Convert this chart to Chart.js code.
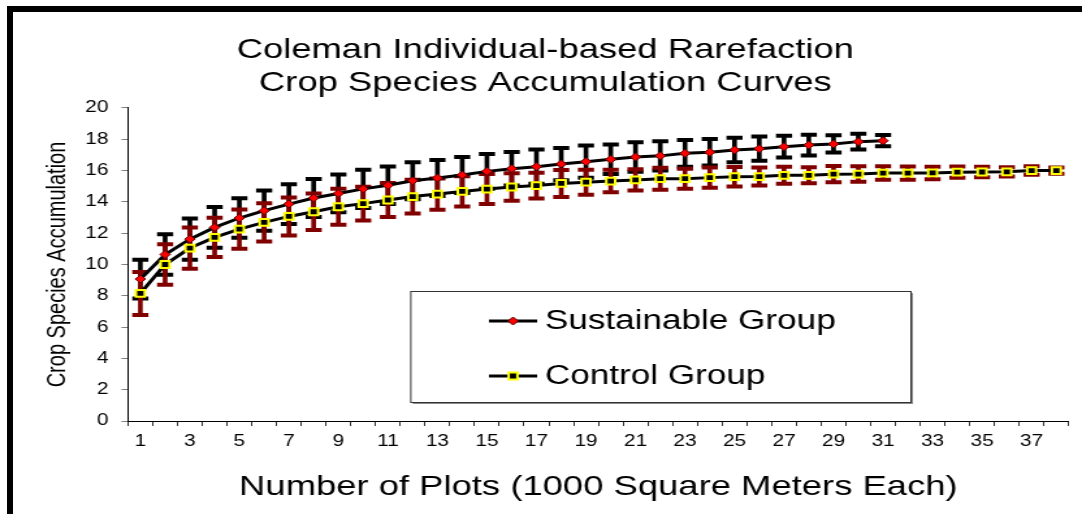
<!DOCTYPE html>
<html><head><meta charset="utf-8">
<script src="https://cdn.jsdelivr.net/npm/chart.js@4/dist/chart.umd.min.js"></script>
<style>
html,body{margin:0;padding:0;background:#fff;overflow:hidden;width:1082px;height:514px;}
#wrap{position:absolute;left:0;top:0;width:832px;height:514px;transform:scaleX(1.30048);transform-origin:0 0;}
#c{display:block;width:832px;height:514px;}
#frame{position:absolute;left:7px;top:6px;width:1075px;height:508px;box-sizing:border-box;border-left:6px solid #000;border-top:6px solid #000;pointer-events:none;}
</style></head><body>
<div id="wrap"><canvas id="c" width="832" height="514"></canvas></div>
<div id="frame"></div>
<script>
// ---- data ----
const plots = ['1','2','3','4','5','6','7','8','9','10','11','12','13','14','15','16','17','18','19','20','21','22','23','24','25','26','27','28','29','30','31','32','33','34','35','36','37','38'];
const susMean = [9.07,10.64,11.62,12.37,12.97,13.44,13.86,14.25,14.54,14.83,15.06,15.35,15.53,15.72,15.95,16.12,16.25,16.42,16.57,16.72,16.87,16.94,17.10,17.17,17.32,17.40,17.53,17.63,17.70,17.85,17.91];
const susErr  = [1.24,1.30,1.32,1.30,1.26,1.28,1.27,1.22,1.21,1.22,1.20,1.18,1.15,1.15,1.11,1.07,1.09,1.03,1.03,0.94,0.94,0.93,0.86,0.85,0.78,0.77,0.70,0.66,0.55,0.50,0.36];
const ctlMean = [8.15,10.00,11.05,11.73,12.26,12.69,13.07,13.37,13.69,13.89,14.12,14.34,14.50,14.67,14.82,14.95,15.04,15.18,15.26,15.33,15.40,15.48,15.48,15.55,15.61,15.62,15.70,15.70,15.77,15.78,15.84,15.84,15.85,15.90,15.91,15.92,16.00,16.00];
const ctlErr  = [1.37,1.30,1.32,1.25,1.26,1.22,1.21,1.16,1.15,1.08,1.08,1.08,1.00,0.96,0.96,0.88,0.82,0.86,0.80,0.72,0.68,0.70,0.64,0.65,0.62,0.57,0.54,0.51,0.52,0.50,0.43,0.42,0.40,0.36,0.33,0.30,0.27,0.20];
const titleLines = ['Coleman Individual-based Rarefaction','Crop Species Accumulation Curves'];
const xTitle = 'Number of Plots (1000 Square Meters Each)';
const yTitle = 'Crop Species Accumulation';
const seriesNames = ['Sustainable Group','Control Group'];

// ---- derived error ranges ----
const susRange = susMean.map((v,i)=>[v-susErr[i], v+susErr[i]]);
const susHigh = susMean.map((v,i)=>v+susErr[i]);
const susLow  = susMean.map((v,i)=>v-susErr[i]);
const ctlRange = ctlMean.map((v,i)=>[v-ctlErr[i], v+ctlErr[i]]);
const ctlHigh = ctlMean.map((v,i)=>v+ctlErr[i]);
const ctlLow  = ctlMean.map((v,i)=>v-ctlErr[i]);

const FONT = "'Liberation Sans', Arial, sans-serif";
Chart.defaults.font.family = FONT;
Chart.defaults.color = '#000';

function capSet(data, color, order){
  return {type:'line', data, showLine:false, pointStyle:'line', pointRadius:6.2, pointHoverRadius:6.2,
    pointBorderWidth:4, pointHoverBorderWidth:4, pointBorderColor:color, pointBackgroundColor:color, borderColor:color, order};
}

const legendPlugin = {
  id:'boxLegend',
  afterDraw(chart){
    const ctx = chart.ctx;
    const L=315.4, T=291, R=700, B=402;
    ctx.save();
    ctx.fillStyle='#8a8a8a';
    ctx.fillRect(L+2, T+2, R-L, B-T);
    ctx.fillStyle='#fff';
    ctx.fillRect(L, T, R-L, B-T);
    ctx.strokeStyle='#333'; ctx.lineWidth=1;
    ctx.strokeRect(L+0.5, T+0.5, R-L, B-T);
    const rows = [321, 376];
    const lineSets = [chart.data.datasets[6], chart.data.datasets[7]];
    lineSets.forEach((ds, k)=>{
      const y = rows[k];
      ctx.strokeStyle = ds.borderColor; ctx.lineWidth = ds.borderWidth;
      ctx.beginPath(); ctx.moveTo(376, y); ctx.lineTo(413, y); ctx.stroke();
      ctx.fillStyle = ds.pointBackgroundColor; ctx.strokeStyle = ds.pointBorderColor; ctx.lineWidth = ds.pointBorderWidth;
      Chart.helpers.drawPoint(ctx, {pointStyle:ds.pointStyle, radius:ds.pointRadius, borderWidth:ds.pointBorderWidth, rotation:0}, 394.5, y);
      ctx.fillStyle='#000'; ctx.font = "27px " + FONT; ctx.textBaseline='middle'; ctx.textAlign='left';
      ctx.fillText(ds.label, 419, y+1);
    });
    ctx.restore();
  }
};

new Chart(document.getElementById('c'), {
  type:'bar',
  data:{
    labels: plots,
    datasets:[
      {type:'bar', data:susRange, backgroundColor:'#000', borderWidth:0, barThickness:3, grouped:false, order:10},
      capSet(susHigh,'#000',9),
      capSet(susLow,'#000',9),
      {type:'bar', data:ctlRange, backgroundColor:'#800000', borderWidth:0, barThickness:3, grouped:false, order:8},
      capSet(ctlHigh,'#800000',7),
      capSet(ctlLow,'#800000',7),
      {type:'line', label:seriesNames[0], data:susMean, borderColor:'#000', borderWidth:3, tension:0,
        pointStyle:'rectRot', pointRadius:4, pointHoverRadius:4, pointBackgroundColor:'#ff0000', pointBorderColor:'#5a0000', pointBorderWidth:1, order:2},
      {type:'line', label:seriesNames[1], data:ctlMean, borderColor:'#000', borderWidth:3, tension:0,
        pointStyle:'rect', pointRadius:4.8, pointHoverRadius:4.8, pointBackgroundColor:'#000', pointBorderColor:'#ffff00', pointBorderWidth:2, order:1}
    ]
  },
  options:{
    responsive:false, animation:false, events:[],
    layout:{padding:{left:12, right:5.4, top:0, bottom:0}},
    plugins:{
      legend:{display:false}, tooltip:{enabled:false},
      title:{display:true, text:titleLines, color:'#000', font:{size:28, weight:'normal', lineHeight:1.18}, padding:{top:33.5, bottom:8.4}}
    },
    scales:{
      x:{type:'category', offset:true,
        grid:{offset:true, drawOnChartArea:false, tickLength:5, color:'#333', lineWidth:1},
        border:{color:'#000', width:1},
        ticks:{autoSkip:false, maxRotation:0, minRotation:0, padding:6, color:'#000', font:{size:16},
          callback(v,i){ return i%2===0 ? this.getLabelForValue(v) : ''; }},
        title:{display:true, text:xTitle, color:'#000', font:{size:28}, padding:{top:4, bottom:10}},
        afterFit(s){ s.height = 93; }
      },
      y:{min:0, max:20,
        grid:{drawOnChartArea:false, tickLength:5, color:'#808080'},
        border:{color:'#000', width:1},
        ticks:{stepSize:2, padding:10, color:'#000', font:{size:16}},
        title:{display:true, text:yTitle, color:'#000', font:{size:20}, padding:{top:20, bottom:0}},
        afterFit(s){ s.width = 86.4; }
      }
    }
  },
  plugins:[legendPlugin]
});
</script>
</body></html>
